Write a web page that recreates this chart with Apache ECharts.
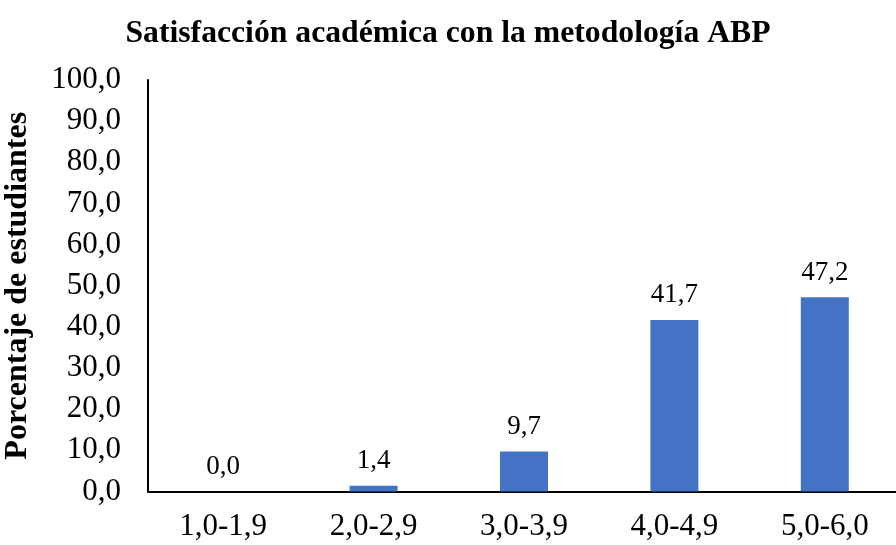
<!DOCTYPE html>
<html>
<head>
<meta charset="utf-8">
<script src="https://cdn.jsdelivr.net/npm/echarts@6/dist/echarts.min.js"></script>
<style>html,body{margin:0;padding:0;background:#fff}#c{width:896px;height:545px}</style>
</head>
<body>
<div id="c"></div>
<script>
const categories = ['1,0-1,9', '2,0-2,9', '3,0-3,9', '4,0-4,9', '5,0-6,0'];
const values = [0.0, 1.4, 9.7, 41.7, 47.2];
const yMin = 0, yMax = 100, yInterval = 10;
const fmt = v => Number(v).toFixed(1).replace('.', ',');
const font = "'Liberation Serif', 'Times New Roman', serif";
const chart = echarts.init(document.getElementById('c'));
chart.setOption({
  animation: false,
  title: {
    text: 'Satisfacción académica con la metodología ABP',
    left: 'center', top: 13,
    textStyle: { fontFamily: font, fontWeight: 'bold', fontSize: 31.7, color: '#000' }
  },
  grid: { left: 148, right: -4, top: 80, bottom: 53.5, outerBoundsMode: 'none', containLabel: false },
  xAxis: {
    type: 'category', data: categories,
    axisLine: { lineStyle: { color: '#000', width: 2 } },
    axisTick: { show: false },
    axisLabel: { fontFamily: font, fontSize: 31, color: '#000', margin: 20 }
  },
  yAxis: {
    type: 'value', min: yMin, max: yMax, interval: yInterval,
    name: 'Porcentaje de estudiantes', nameLocation: 'middle', nameGap: 114,
    nameTextStyle: { fontFamily: font, fontWeight: 'bold', fontSize: 32, color: '#000' },
    axisLine: { show: true, lineStyle: { color: '#000', width: 2 } },
    axisTick: { show: false },
    splitLine: { show: false },
    axisLabel: { fontFamily: font, fontSize: 31, color: '#000', margin: 27, formatter: fmt }
  },
  series: [{
    type: 'bar', data: values, barWidth: 48,
    itemStyle: { color: '#4472C4' },
    label: { show: true, position: 'top', distance: 11, fontFamily: font, fontSize: 27, color: '#000', formatter: p => fmt(p.value) }
  }]
});
</script>
</body>
</html>
